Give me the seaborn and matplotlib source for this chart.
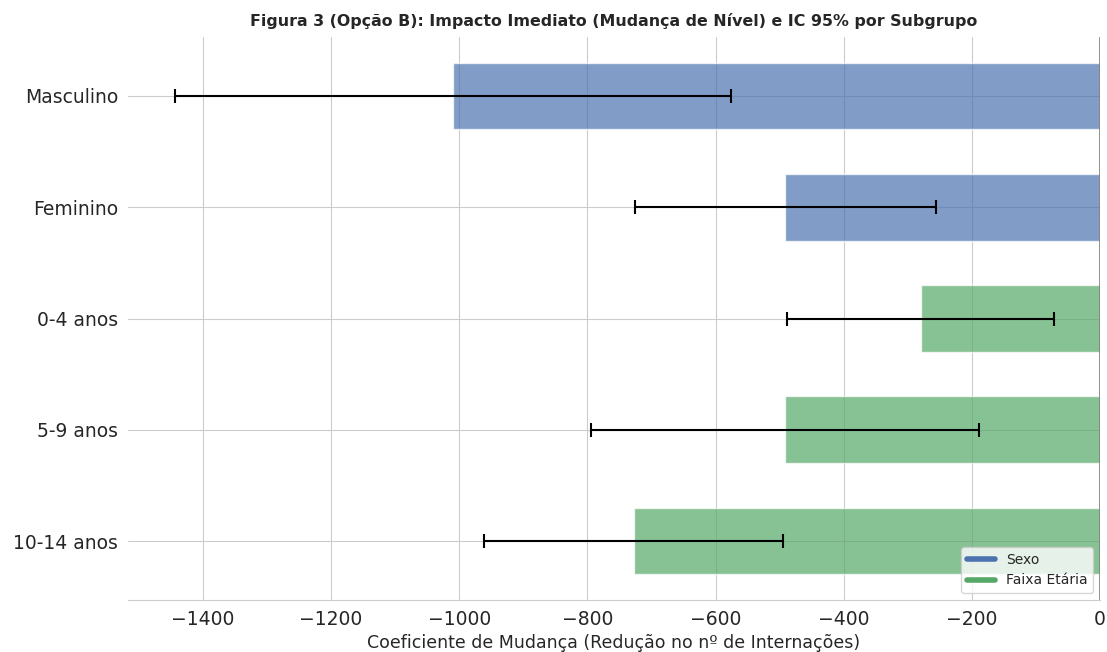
import pandas as pd
import matplotlib
matplotlib.use('Agg')
import matplotlib.pyplot as plt
import seaborn as sns
from matplotlib.lines import Line2D

# Data
subgroups = ['Masculino', 'Feminino', '0-4 anos', '5-9 anos', '10-14 anos']
groups = ['Sexo', 'Sexo', 'Faixa Etária', 'Faixa Etária', 'Faixa Etária']
coefs = [-1010, -491, -280, -492, -728]
ci_low = [-1444, -726, -489, -795, -961]
ci_high = [-576, -256, -72, -189, -495]

df = pd.DataFrame({'subgrupo': subgroups, 'grupo': groups, 'coef': coefs,
                   'lo': ci_low, 'hi': ci_high})
palette = {'Sexo': '#4C72B0', 'Faixa Etária': '#55A868'}

# Plot
sns.set_style('whitegrid')
fig, ax = plt.subplots(figsize=(11.07, 6.52), dpi=100)
fig.subplots_adjust(left=128/1107, right=1100/1107, top=1-37/652, bottom=1-600/652)

sns.barplot(data=df, x='coef', y='subgrupo', hue='grupo', palette=palette,
            dodge=False, width=0.6, alpha=0.7, saturation=1, legend=False, ax=ax)
ax.errorbar(df['coef'], range(len(df)),
            xerr=[df['coef'] - df['lo'], df['hi'] - df['coef']],
            fmt='none', ecolor='black', elinewidth=1.5, capsize=5, capthick=1.5)
ax.axvline(0, color='gray', linewidth=1.2)

ax.set_xlim(-1517, 0)
ax.set_ylim(len(df) - 0.47, -0.53)
ax.xaxis.grid(True)
ax.yaxis.grid(True)
ax.set_axisbelow(True)
sns.despine(ax=ax, left=True, top=True, right=True)
ax.spines['bottom'].set_color('#cccccc')

ax.tick_params(axis='both', labelsize=13.5)
ax.set_ylabel('')
ax.set_xlabel('Coeficiente de Mudança (Redução no nº de Internações)', fontsize=12.5)
ax.set_title('Figura 3 (Opção B): Impacto Imediato (Mudança de Nível) e IC 95% por Subgrupo',
             fontsize=11.4, fontweight='bold', pad=8)

handles = [Line2D([0], [0], color=palette[g], lw=4) for g in ['Sexo', 'Faixa Etária']]
ax.legend(handles, ['Sexo', 'Faixa Etária'], loc='lower right', fontsize=10,
          borderaxespad=0.5)

plt.savefig('out.png', dpi=100)
